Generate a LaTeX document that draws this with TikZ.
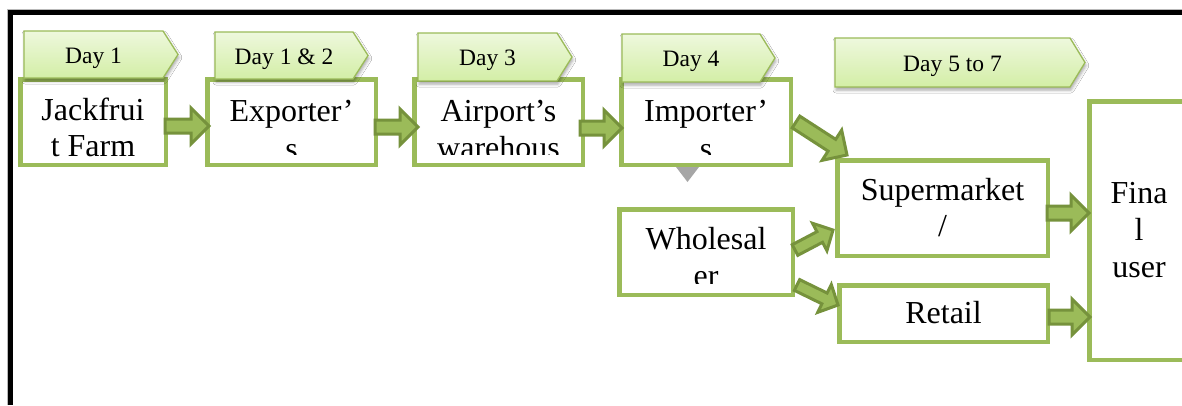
\documentclass[tikz,border=0pt]{standalone}
\usepackage{fontspec}
\setmainfont{Liberation Serif}
\usetikzlibrary{calc,shadows.blur}
\definecolor{boxgreen}{HTML}{9BBB59}
\definecolor{arrdark}{HTML}{76923C}
\definecolor{arrfill}{HTML}{9BBB59}
\definecolor{tagtop}{HTML}{EEF8DD}
\definecolor{tagbot}{HTML}{D3EEA6}
\definecolor{trigray}{HTML}{A6A6A6}
\tikzset{
  bas/.store in=\bas, baH/.store in=\baH, bah/.store in=\bah,
  bas=7pt, baH=18pt, bah=18pt,
  blockarr/.style={draw=arrdark, fill=arrfill, line width=3pt, line join=miter,
    to path={let \p1=(\tikztostart), \p2=(\tikztotarget),
      \n1={atan2(\y2-\y1,\x2-\x1)}, \n2={veclen(\x2-\x1,\y2-\y1)} in
      ([shift={(\p1)},rotate=\n1]0pt,\bas)
      -- ([shift={(\p1)},rotate=\n1]{\n2*1pt-\bah},\bas)
      -- ([shift={(\p1)},rotate=\n1]{\n2*1pt-\bah},\baH)
      -- (\p2)
      -- ([shift={(\p1)},rotate=\n1]{\n2*1pt-\bah},-\baH)
      -- ([shift={(\p1)},rotate=\n1]{\n2*1pt-\bah},-\bas)
      -- ([shift={(\p1)},rotate=\n1]0pt,-\bas) -- cycle}},
  smallarr/.style={blockarr, bas=6pt, baH=15.5pt, bah=15pt}
}
\begin{document}
\begin{tikzpicture}[x=1pt,y=-1pt,
  box/.style={draw=boxgreen, line width=4.5pt, fill=white, rectangle, inner sep=0pt},
  txt/.style={anchor=base, inner sep=0pt, font=\fontsize{32}{37}\selectfont},
  daytxt/.style={anchor=base, inner sep=0pt, font=\fontsize{23.5}{27}\selectfont},
  tag/.style={draw=boxgreen, line width=1.3pt, top color=tagtop, bottom color=tagbot,
    line join=miter, blur shadow={shadow xshift=1pt, shadow yshift=-3pt,
    shadow opacity=35, shadow blur radius=3pt}}
]
\useasboundingbox (0,0) rectangle (1182,405);
\fill[white] (0,0) rectangle (1182,405);
% frame
\draw[gray!55, line width=0.8pt] (7.6,405) -- (7.6,9.6) -- (1182,9.6);
\draw[black, line width=5pt] (10.8,405) -- (10.8,12.6) -- (1182,12.6);

% gray triangle under Importer's
\coordinate (tri) at (687.5,165);
\fill[trigray] ($(tri)+(-13,0)$) -- ($(tri)+(13,0)$) -- ($(tri)+(0,17)$) -- cycle;

% boxes
\node[box, minimum width=145.5pt, minimum height=85.5pt] (farm) at (93,122) {};
\node[box, minimum width=168.5pt, minimum height=85.5pt] (exp) at (291.5,122) {};
\node[box, minimum width=168.5pt, minimum height=85.5pt] (air) at (498.5,122) {};
\node[box, minimum width=169.5pt, minimum height=85.5pt] (imp) at (706,122) {};
\node[box, minimum width=173.5pt, minimum height=85.5pt] (whole) at (706,252) {};
\node[box, minimum width=210.5pt, minimum height=95.5pt] (sup) at (942.5,208) {};
\node[box, minimum width=208.5pt, minimum height=56.5pt] (ret) at (943.5,313.5) {};
\node[box, minimum width=99.5pt, minimum height=258.5pt] (fin) at (1139,230.5) {};

% box texts
\node[txt] (farm1) at (93,120) {Jackfrui};
\node[txt] (farm2) at (93,156) {t Farm};
\begin{scope}
  \clip ($(exp.south west)+(3,-13)$) rectangle ($(exp.north east)+(-3,3)$);
  \node[txt] (exp1) at (291.5,121) {Exporter’};
  \node[txt] (exp2) at (291.5,159) {s};
\end{scope}
\begin{scope}
  \clip ($(air.south west)+(3,-13)$) rectangle ($(air.north east)+(-3,3)$);
  \node[txt] (air1) at (498.5,121) {Airport’s};
  \node[txt] (air2) at (498.5,158) {warehous};
\end{scope}
\begin{scope}
  \clip ($(imp.south west)+(3,-13)$) rectangle ($(imp.north east)+(-3,3)$);
  \node[txt] (imp1) at (706,121) {Importer’};
  \node[txt] (imp2) at (706,159) {s};
\end{scope}
\begin{scope}
  \clip ($(whole.south west)+(3,-14)$) rectangle ($(whole.north east)+(-3,3)$);
  \node[txt] (whole1) at (706,249) {Wholesal};
  \node[txt] (whole2) at (706,286) {er};
\end{scope}
\node[txt] (sup1) at (942.5,200) {Supermarket};
\node[txt] (sup2) at (942.5,236) {/};
\node[txt] (ret1) at (943.5,323) {Retail};
\node[txt] (fin1) at (1139,203) {Fina};
\node[txt] (fin2) at (1139,240) {l};
\node[txt] (fin3) at (1139,277) {user};

% day tags
\path[tag] (24,31) -- (163,31) -- (178,54.5) -- (163,78) -- (24,78) -- cycle;
\node[daytxt] (d1) at (93.5,63) {Day 1};
\path[tag] (215,32) -- (353,32) -- (368,55.5) -- (353,79) -- (215,79) -- cycle;
\node[daytxt] (d2) at (284,64) {Day 1 \& 2};
\path[tag] (418,33) -- (557,33) -- (572,57) -- (557,81) -- (418,81) -- cycle;
\node[daytxt] (d3) at (487.5,65.5) {Day 3};
\path[tag] (622,34) -- (760,34) -- (775,58) -- (760,82) -- (622,82) -- cycle;
\node[daytxt] (d4) at (691,66.5) {Day 4};
\path[tag] (835,38) -- (1070,38) -- (1085,62.5) -- (1070,87) -- (835,87) -- cycle;
\node[daytxt] (d5) at (952.5,71) {Day 5 to 7};

% block arrows
\draw[blockarr] ($(farm.east)+(-3,4)$) to ($(exp.west)+(4,4)$);
\draw[blockarr] ($(exp.east)+(-3,5)$) to ($(air.west)+(6,5)$);
\draw[blockarr] ($(air.east)+(-5,6)$) to ($(imp.west)+(3,6)$);
\draw[blockarr] ($(imp.east)+(3,0)$) to ($(sup.north west)+(12,-3)$);
\draw[smallarr] ($(whole.east)+(0,-2)$) to ($(sup.west)+(-2,22)$);
\draw[smallarr] ($(whole.east)+(2,33)$) to ($(ret.west)+(1,-8.5)$);
\draw[blockarr] ($(sup.east)+(-3,5)$) to ($(sup.east -| fin.west)+(2,5)$);
\draw[blockarr] ($(ret.east)+(-1,3.5)$) to ($(ret.east -| fin.west)+(3,3.5)$);
\end{tikzpicture}
\end{document}
